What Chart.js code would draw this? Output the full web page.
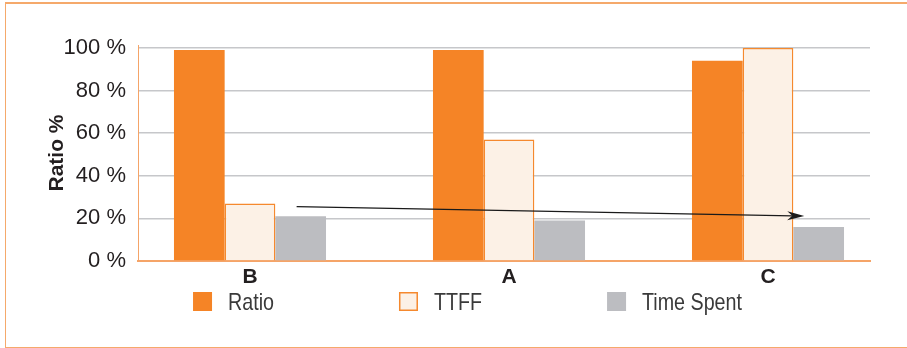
<!DOCTYPE html>
<html>
<head>
<meta charset="utf-8">
<script src="https://cdn.jsdelivr.net/npm/chart.js@4/dist/chart.umd.min.js"></script>
<style>
  html, body { margin: 0; padding: 0; background: #fff; }
  #wrap { position: relative; width: 907px; height: 348px; overflow: hidden; }
  #frame {
    position: absolute; left: 5px; top: 2px; right: 0; bottom: 0;
    border-top: 2px solid #f5a96b; border-left: 1.5px solid #f5a96b; border-bottom: 1.5px solid #f5a96b;
    box-sizing: border-box; pointer-events: none;
  }
  canvas { position: absolute; left: 0; top: 0; }
</style>
</head>
<body>
<div id="wrap">
  <div id="frame"></div>
  <canvas id="chart" width="907" height="348"></canvas>
</div>
<script>
// Categories and series (percent)
const categories = ['B', 'A', 'C'];
const ratio = [99, 99, 94];
const ttff = [27, 57, 100];
const timeSpent = [21, 19, 16];
const seriesNames = ['Ratio', 'TTFF', 'Time Spent'];
const yTicks = [0, 20, 40, 60, 80, 100];

// Trend arrow endpoints in axis units (x: category index, y: percent)
const trendFrom = [0.18, 25.5];
const trendTo = [2.14, 21.1];

const SANS = "'Liberation Sans', Arial, sans-serif";
const INK = '#231f20';
const ORANGE = '#f58426';
const AXIS_ORANGE = '#f5a468';

const toPoints = (vals) => vals.map((v, i) => ({ x: i, y: v }));

// Arrow drawn over the bars
const trendArrow = {
  id: 'trendArrow',
  afterDatasetsDraw(chart) {
    const { ctx, scales: { x, y } } = chart;
    const x1 = x.getPixelForValue(trendFrom[0]), y1 = y.getPixelForValue(trendFrom[1]);
    const x2 = x.getPixelForValue(trendTo[0]), y2 = y.getPixelForValue(trendTo[1]);
    const ang = Math.atan2(y2 - y1, x2 - x1);
    const headLen = 17, headW = 4.5, notch = 12;
    ctx.save();
    ctx.strokeStyle = '#1a1a1a';
    ctx.fillStyle = '#1a1a1a';
    ctx.lineWidth = 1.2;
    ctx.beginPath();
    ctx.moveTo(x1, y1);
    ctx.lineTo(x2 - Math.cos(ang) * notch, y2 - Math.sin(ang) * notch);
    ctx.stroke();
    ctx.translate(x2, y2);
    ctx.rotate(ang);
    ctx.beginPath();
    ctx.moveTo(0, 0);
    ctx.lineTo(-headLen, -headW);
    ctx.lineTo(-notch, 0);
    ctx.lineTo(-headLen, headW);
    ctx.closePath();
    ctx.fill();
    ctx.restore();
  }
};

// Legend row under the category labels (condensed text)
const legendRow = {
  id: 'legendRow',
  afterDraw(chart) {
    const ctx = chart.ctx;
    const box = 19, gapText = 16, gapItem = 125, centerX = 467.5, top = 292, squeeze = 0.82;
    ctx.save();
    ctx.font = '24px ' + SANS;
    const items = chart.data.datasets.map(ds => ({ ds, tw: ctx.measureText(ds.label).width * squeeze }));
    items.forEach(it => { it.w = box + gapText + it.tw; });
    const total = items.reduce((s, it) => s + it.w, 0) + gapItem * (items.length - 1);
    let x = centerX - total / 2;
    items.forEach(({ ds, w }) => {
      ctx.fillStyle = ds.backgroundColor;
      ctx.fillRect(x, top, box, box);
      if (ds.borderWidth) {
        ctx.strokeStyle = ds.borderColor;
        ctx.lineWidth = ds.borderWidth;
        const h = ds.borderWidth / 2;
        ctx.strokeRect(x + h, top + h, box - 2 * h, box - 2 * h);
      }
      ctx.save();
      ctx.translate(x + box + gapText, top + box - 1.5);
      ctx.scale(squeeze, 1);
      ctx.fillStyle = '#3a3a3a';
      ctx.textBaseline = 'alphabetic';
      ctx.textAlign = 'left';
      ctx.fillText(ds.label, 0, 0);
      ctx.restore();
      x += w + gapItem;
    });
    ctx.restore();
  }
};

new Chart(document.getElementById('chart'), {
  type: 'bar',
  data: {
    datasets: [
      { label: seriesNames[0], data: toPoints(ratio), backgroundColor: ORANGE, borderWidth: 0 },
      { label: seriesNames[1], data: toPoints(ttff), backgroundColor: '#fcf1e6', borderColor: '#f5892e', borderWidth: 1.5 },
      { label: seriesNames[2], data: toPoints(timeSpent), backgroundColor: '#bcbdc1', borderWidth: 0 }
    ]
  },
  options: {
    responsive: false,
    animation: false,
    devicePixelRatio: 1,
    layout: { padding: { top: 45, left: 30, right: 37, bottom: 0 } },
    datasets: { bar: { categoryPercentage: 0.587, barPercentage: 1 } },
    plugins: { legend: { display: false }, tooltip: { enabled: false } },
    scales: {
      x: {
        type: 'linear',
        offset: false,
        min: -0.4324,
        max: 2.3938,
        grid: { display: false, drawTicks: false },
        border: { display: true, color: AXIS_ORANGE, width: 2 },
        afterBuildTicks: (s) => { s.ticks = categories.map((_, i) => ({ value: i })); },
        afterFit: (s) => { s.height = 87; },
        ticks: {
          autoSkip: false,
          maxRotation: 0,
          padding: 4,
          color: INK,
          font: { family: SANS, size: 21, weight: 'bold' },
          callback: (v) => categories[v]
        }
      },
      y: {
        min: 0,
        max: 101.4,
        grid: {
          drawTicks: false,
          color: (c) => (c.tick && c.tick.value === 0 ? 'rgba(0,0,0,0)' : '#c6c7ca'),
          lineWidth: 1.5
        },
        border: { display: true, color: AXIS_ORANGE, width: 1 },
        afterBuildTicks: (s) => { s.ticks = yTicks.map(v => ({ value: v })); },
        afterFit: (s) => { s.width = 108; },
        ticks: {
          padding: 12,
          color: INK,
          font: { family: SANS, size: 22 },
          callback: (v) => v + ' %'
        },
        title: {
          display: true,
          text: 'Ratio %',
          color: INK,
          font: { family: SANS, size: 21, weight: 'bold' },
          padding: { top: 15, bottom: 0 }
        }
      }
    }
  },
  plugins: [trendArrow, legendRow]
});
</script>
</body>
</html>
